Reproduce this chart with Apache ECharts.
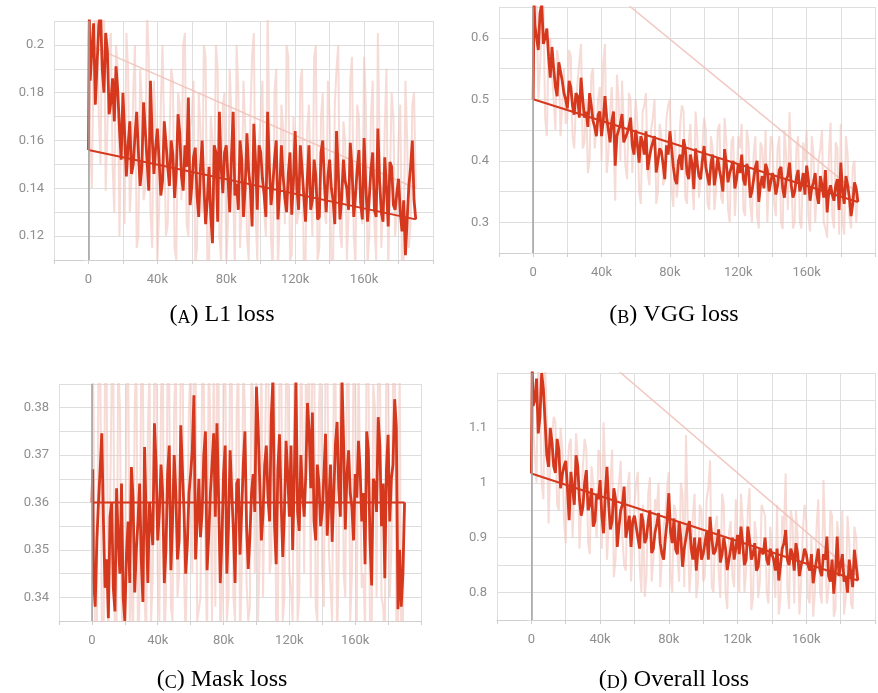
<!DOCTYPE html>
<html>
<head>
<meta charset="utf-8">
<script src="https://cdn.jsdelivr.net/npm/echarts@6/dist/echarts.min.js"></script>
<style>
html,body{margin:0;padding:0;background:#fff;}
#chart{width:878px;height:693px;}
</style>
</head>
<body>
<div id="chart"></div>
<script>
// training steps (thousands), main samples
const steps = [
  0,0.5,2,4,6,8,10,12,14,16,
  18,20,22,24,26,28,30,32,34,36,
  38,40,42,44,46,48,50,52,54,56,
  58,60,62,64,66,68,70,72,74,76,
  78,80,82,84,86,88,90,92,94,96,
  98,100,102,104,106,108,110,112,114,116,
  118,120,122,124,126,128,130,132,134,136,
  138,140,142,144,146,148,150,152,154,156,
  158,160,162,164,166,168,170,172,174,176,
  178,180,182,184,186,188,190
];
// in-between samples (thousands)
const stepsOdd = [
  1,3,5,7,9,11,13,15,17,19,
  21,23,25,27,29,31,33,35,37,39,
  41,43,45,47,49,51,53,55,57,59,
  61,63,65,67,69,71,73,75,77,79,
  81,83,85,87,89,91,93,95,97,99,
  101,103,105,107,109,111,113,115,117,119,
  121,123,125,127,129,131,133,135,137,139,
  141,143,145,147,149,151,153,155,157,159,
  161,163,165,167,169,171,173,175,177,179,
  181,183,185,187,189
];

// (A) L1 loss
const l1Smooth = [
  0.156,0.212,0.198,0.175,0.208,0.19,0.205,0.171,0.186,0.191,
  0.165,0.18,0.145,0.168,0.15,0.172,0.141,0.176,0.152,0.185,
  0.146,0.165,0.137,0.168,0.149,0.16,0.136,0.171,0.145,0.158,
  0.178,0.141,0.157,0.128,0.16,0.125,0.149,0.117,0.155,0.172,
  0.138,0.158,0.13,0.172,0.142,0.16,0.128,0.163,0.14,0.167,
  0.131,0.155,0.137,0.172,0.133,0.152,0.127,0.158,0.136,0.146,
  0.129,0.164,0.131,0.148,0.126,0.158,0.135,0.145,0.128,0.16,
  0.13,0.152,0.135,0.164,0.127,0.152,0.14,0.159,0.128,0.148,
  0.134,0.161,0.126,0.148,0.131,0.165,0.13,0.153,0.124,0.149,
  0.131,0.144,0.122,0.112,0.141,0.16,0.127
];
const l1SmoothOdd = [
  0.185,0.209,0.192,0.214,0.18,0.197,0.176,0.168,0.181,0.152,
  0.163,0.158,0.146,0.162,0.155,0.149,0.164,0.139,0.161,0.157,
  0.152,0.143,0.159,0.141,0.154,0.147,0.163,0.139,0.149,0.133,
  0.153,0.137,0.148,0.141,0.135,0.129,0.158,0.126,0.149,0.155,
  0.144,0.153,0.137,0.131,0.152,0.141,0.147,0.124,0.151,0.158,
  0.144,0.128,0.149,0.141,0.16,0.139,0.145,0.13,0.155,0.143,
  0.14,0.158,0.137,0.143,0.131,0.152,0.127,0.155,0.142,0.145,
  0.14,0.125,0.147,0.136,0.143,0.131,0.148,0.137,0.156,0.127,
  0.141,0.136,0.155,0.128,0.143,0.126,0.14,0.151,0.133,0.138,
  0.13,0.135,0.127,0.149,0.135
];
const l1Raw = [
  0.2,0.215,0.14,0.22,0.17,0.215,0.139,0.2,0.15,0.2,
  0.12,0.175,0.205,0.13,0.18,0.115,0.19,0.135,0.215,0.13,
  0.185,0.11,0.175,0.2,0.125,0.19,0.115,0.18,0.135,0.205,
  0.12,0.17,0.108,0.18,0.13,0.195,0.105,0.16,0.2,0.12,
  0.175,0.108,0.19,0.14,0.2,0.115,0.185,0.12,0.17,0.205,
  0.11,0.17,0.13,0.215,0.118,0.18,0.105,0.175,0.125,0.195,
  0.112,0.17,0.13,0.19,0.108,0.175,0.12,0.2,0.115,0.18,
  0.125,0.17,0.108,0.19,0.122,0.168,0.11,0.185,0.12,0.175,
  0.13,0.195,0.108,0.17,0.125,0.205,0.115,0.165,0.105,0.18,
  0.12,0.16,0.105,0.185,0.115,0.175,0.14
];
const l1RawOdd = [
  0.16,0.195,0.21,0.15,0.22,0.165,0.205,0.13,0.19,0.17,
  0.125,0.19,0.145,0.2,0.12,0.175,0.14,0.195,0.115,0.165,
  0.13,0.2,0.12,0.16,0.185,0.11,0.175,0.2,0.125,0.165,
  0.185,0.115,0.165,0.2,0.11,0.17,0.135,0.19,0.11,0.18,
  0.125,0.17,0.105,0.18,0.135,0.165,0.11,0.195,0.13,0.16,
  0.185,0.12,0.165,0.105,0.19,0.13,0.165,0.2,0.11,0.17,
  0.125,0.185,0.105,0.165,0.14,0.195,0.11,0.17,0.13,0.185,
  0.105,0.175,0.2,0.115,0.16,0.13,0.195,0.108,0.17,0.125,
  0.175,0.12,0.185,0.11,0.16,0.135,0.19,0.105,0.17,0.13,
  0.175,0.11,0.16,0.125,0.18
];

// (B) VGG loss
const vggSmooth = [
  0.5,0.66,0.6,0.64,0.59,0.615,0.535,0.55,0.505,0.545,
  0.51,0.485,0.52,0.475,0.505,0.535,0.47,0.455,0.49,0.455,
  0.475,0.44,0.505,0.45,0.465,0.392,0.45,0.476,0.43,0.455,
  0.425,0.45,0.397,0.43,0.448,0.405,0.43,0.381,0.42,0.395,
  0.425,0.448,0.39,0.362,0.41,0.435,0.38,0.41,0.354,0.395,
  0.37,0.424,0.375,0.395,0.36,0.405,0.37,0.419,0.365,0.39,
  0.355,0.395,0.41,0.36,0.385,0.35,0.39,0.333,0.375,0.395,
  0.35,0.38,0.345,0.385,0.355,0.37,0.397,0.34,0.372,0.35,
  0.38,0.392,0.335,0.365,0.345,0.375,0.34,0.316,0.36,0.335,
  0.37,0.397,0.33,0.36,0.31,0.365,0.333
];
const vggSmoothOdd = [
  0.62,0.58,0.655,0.6,0.57,0.585,0.52,0.56,0.53,0.5,
  0.53,0.49,0.51,0.47,0.5,0.48,0.51,0.465,0.44,0.48,
  0.465,0.47,0.43,0.48,0.44,0.46,0.43,0.445,0.47,0.41,
  0.425,0.44,0.41,0.385,0.42,0.44,0.4,0.415,0.37,0.41,
  0.42,0.37,0.4,0.385,0.42,0.37,0.395,0.42,0.375,0.4,
  0.39,0.36,0.41,0.38,0.385,0.35,0.395,0.38,0.4,0.37,
  0.38,0.37,0.395,0.34,0.37,0.4,0.36,0.355,0.385,0.365,
  0.37,0.36,0.39,0.34,0.375,0.36,0.35,0.385,0.36,0.345,
  0.37,0.355,0.38,0.33,0.36,0.385,0.35,0.345,0.36,0.32,
  0.35,0.375,0.34,0.33,0.355
];
const vggRaw = [
  0.78,0.62,0.68,0.55,0.66,0.44,0.6,0.5,0.58,0.44,
  0.55,0.47,0.57,0.42,0.53,0.59,0.43,0.38,0.54,0.42,
  0.5,0.4,0.59,0.41,0.52,0.335,0.5,0.53,0.39,0.51,
  0.38,0.5,0.35,0.48,0.51,0.36,0.47,0.33,0.46,0.36,
  0.47,0.5,0.325,0.34,0.46,0.48,0.33,0.46,0.32,0.44,
  0.34,0.47,0.33,0.44,0.32,0.45,0.34,0.47,0.32,0.43,
  0.31,0.44,0.46,0.31,0.43,0.3,0.44,0.29,0.42,0.45,
  0.3,0.43,0.31,0.44,0.289,0.41,0.479,0.29,0.42,0.3,
  0.43,0.45,0.285,0.41,0.3,0.42,0.3,0.275,0.462,0.29,
  0.42,0.46,0.28,0.41,0.29,0.4,0.347
];
const vggRawOdd = [
  0.7,0.5,0.62,0.47,0.59,0.54,0.45,0.56,0.49,0.46,
  0.58,0.44,0.49,0.56,0.42,0.5,0.4,0.55,0.45,0.52,
  0.56,0.38,0.48,0.43,0.54,0.4,0.46,0.37,0.5,0.44,
  0.46,0.33,0.49,0.38,0.45,0.5,0.35,0.44,0.37,0.49,
  0.35,0.45,0.37,0.49,0.34,0.43,0.36,0.48,0.34,0.42,
  0.45,0.32,0.42,0.35,0.46,0.33,0.43,0.3,0.44,0.36,
  0.42,0.32,0.45,0.33,0.41,0.31,0.43,0.36,0.3,0.44,
  0.33,0.42,0.3,0.45,0.32,0.39,0.3,0.44,0.29,0.4,
  0.31,0.44,0.3,0.4,0.45,0.29,0.41,0.31,0.43,0.28,
  0.3,0.44,0.31,0.39,0.3
];

// (C) Mask loss
const maskSmooth = [
  0.36,0.367,0.338,0.36,0.3746,0.342,0.3356,0.36,0.337,0.352,
  0.364,0.335,0.356,0.3675,0.341,0.356,0.348,0.3717,0.343,0.36,
  0.3767,0.352,0.368,0.343,0.366,0.3457,0.37,0.348,0.3763,0.358,
  0.351,0.366,0.3826,0.356,0.3527,0.37,0.3457,0.362,0.3746,0.3767,
  0.343,0.366,0.345,0.371,0.354,0.364,0.349,0.368,0.355,0.3527,
  0.366,0.3844,0.364,0.3577,0.372,0.356,0.386,0.347,0.3744,0.3485,
  0.373,0.357,0.35,0.386,0.354,0.362,0.366,0.3754,0.379,0.352,
  0.364,0.358,0.3745,0.36,0.3517,0.3723,0.363,0.386,0.3543,0.371,
  0.359,0.366,0.373,0.356,0.347,0.371,0.3425,0.364,0.378,0.355,
  0.344,0.3743,0.365,0.3818,0.3375,0.338,0.36
];
const maskSmoothOdd = [
  0.344,0.352,0.367,0.356,0.348,0.357,0.342,0.363,0.345,0.34,
  0.349,0.343,0.361,0.35,0.364,0.339,0.356,0.36,0.351,0.368,
  0.358,0.362,0.35,0.372,0.356,0.362,0.352,0.367,0.345,0.362,
  0.371,0.348,0.365,0.358,0.375,0.353,0.368,0.357,0.361,0.352,
  0.372,0.355,0.362,0.343,0.365,0.358,0.375,0.346,0.362,0.358,
  0.376,0.352,0.368,0.361,0.378,0.355,0.367,0.36,0.358,0.366,
  0.372,0.365,0.358,0.37,0.357,0.381,0.363,0.356,0.368,0.355,
  0.366,0.353,0.368,0.362,0.377,0.357,0.372,0.366,0.362,0.352,
  0.361,0.367,0.362,0.375,0.352,0.365,0.358,0.372,0.364,0.367,
  0.356,0.368,0.376,0.35,0.345
];
const maskRaw = [
  0.36,0.39,0.325,0.39,0.335,0.392,0.33,0.385,0.322,0.39,
  0.34,0.33,0.39,0.345,0.38,0.33,0.39,0.34,0.375,0.335,
  0.392,0.345,0.382,0.33,0.39,0.338,0.38,0.34,0.392,0.345,
  0.33,0.39,0.395,0.335,0.34,0.385,0.33,0.375,0.39,0.388,
  0.328,0.385,0.335,0.392,0.34,0.38,0.33,0.39,0.343,0.338,
  0.38,0.398,0.35,0.34,0.39,0.345,0.4,0.332,0.39,0.335,
  0.39,0.345,0.335,0.4,0.34,0.375,0.385,0.39,0.395,0.338,
  0.38,0.345,0.392,0.35,0.335,0.39,0.348,0.4,0.34,0.388,
  0.345,0.385,0.39,0.342,0.333,0.392,0.328,0.38,0.395,0.34,
  0.33,0.39,0.35,0.398,0.325,0.33,0.36
];
const maskRawOdd = [
  0.38,0.33,0.395,0.32,0.385,0.33,0.39,0.335,0.38,0.325,
  0.385,0.335,0.33,0.392,0.34,0.385,0.33,0.388,0.345,0.39,
  0.335,0.395,0.34,0.385,0.335,0.39,0.345,0.398,0.33,0.38,
  0.345,0.39,0.335,0.388,0.35,0.392,0.335,0.338,0.385,0.34,
  0.395,0.34,0.385,0.335,0.39,0.345,0.38,0.335,0.392,0.345,
  0.335,0.392,0.34,0.4,0.348,0.39,0.335,0.395,0.34,0.388,
  0.342,0.39,0.335,0.395,0.345,0.38,0.34,0.398,0.335,0.39,
  0.338,0.395,0.342,0.385,0.33,0.392,0.345,0.39,0.335,0.392,
  0.335,0.39,0.345,0.398,0.332,0.385,0.34,0.39,0.338,0.395,
  0.34,0.385,0.335,0.39,0.335
];

// (D) Overall loss
const totalSmooth = [
  1.017,1.21,1.15,1.09,1.2,1.11,1.029,1.075,1.018,1.06,
  1.015,1.04,0.932,0.99,1.05,0.97,0.956,1.023,0.96,0.92,
  0.98,1.005,0.908,1.029,0.915,0.99,0.883,0.95,0.993,0.92,
  0.883,0.94,0.9,0.944,0.89,0.93,0.872,0.91,0.945,0.87,
  0.9,0.981,0.89,0.878,0.93,0.847,0.9,0.93,0.86,0.84,
  0.9,0.87,0.91,0.938,0.87,0.89,0.855,0.9,0.841,0.88,
  0.86,0.905,0.92,0.85,0.92,0.86,0.89,0.847,0.88,0.9,
  0.85,0.87,0.84,0.822,0.88,0.914,0.85,0.87,0.89,0.83,
  0.86,0.87,0.84,0.817,0.86,0.84,0.87,0.902,0.82,0.798,
  0.902,0.85,0.82,0.80,0.86,0.878,0.822
];
const totalSmoothOdd = [
  1.14,1.19,1.12,1.17,1.05,1.1,1.03,1.08,0.99,1.03,
  0.99,1.02,0.96,1.03,0.94,1.0,0.95,0.99,0.93,0.97,
  0.94,0.98,0.96,0.93,0.97,0.92,0.96,0.9,0.94,0.93,
  0.92,0.88,0.93,0.9,0.95,0.88,0.925,0.89,0.86,0.93,
  0.91,0.935,0.87,0.9,0.88,0.92,0.88,0.9,0.88,0.86,
  0.89,0.86,0.9,0.875,0.915,0.87,0.88,0.86,0.9,0.88,
  0.87,0.89,0.86,0.895,0.87,0.84,0.88,0.87,0.86,0.88,
  0.86,0.88,0.85,0.89,0.86,0.88,0.84,0.87,0.85,0.88,
  0.85,0.87,0.84,0.88,0.83,0.86,0.83,0.86,0.84,0.83,
  0.87,0.83,0.86,0.81,0.85
];
const totalRaw = [
  1.34,1.2,1.05,1.22,1.0,1.21,0.926,1.08,1.11,0.95,
  1.06,0.89,1.07,0.9,1.09,0.88,1.03,1.06,0.87,1.0,
  0.9,1.05,1.11,0.86,1.0,0.828,0.97,1.04,0.85,0.99,
  0.82,0.96,1.02,0.8,0.792,0.98,0.82,0.97,1.0,0.81,
  0.94,1.02,0.8,0.95,0.82,0.98,1.087,0.8,0.94,0.79,
  0.96,0.82,0.97,1.041,0.8,0.94,0.79,0.96,0.77,0.93,
  0.81,0.97,0.98,0.8,0.95,0.768,0.93,0.79,0.96,0.94,
  0.78,0.92,0.79,0.76,0.94,1.017,0.77,0.93,0.95,0.76,
  0.91,0.93,0.78,0.756,0.92,0.8,1.005,0.78,0.95,0.756,
  0.93,0.8,0.76,0.94,0.78,0.92,0.83
];
const totalRawOdd = [
  1.1,1.0,1.15,0.97,1.12,1.03,1.12,0.96,1.1,0.93,
  1.02,1.08,0.9,1.05,0.95,1.08,0.89,1.03,0.95,1.06,
  0.88,1.02,0.92,1.06,0.86,1.0,0.9,0.84,1.02,0.89,
  1.0,0.85,0.96,0.83,1.01,0.86,0.95,0.81,0.92,0.99,
  0.83,0.96,0.87,1.0,0.81,0.93,0.85,0.98,0.82,0.95,
  0.83,0.99,0.81,0.92,0.84,0.98,0.8,0.91,0.83,0.97,
  0.8,0.93,0.84,0.99,0.79,0.9,0.82,0.96,0.8,0.92,
  0.85,0.96,0.79,0.91,0.81,0.95,0.78,0.9,0.82,0.96,
  0.79,0.9,0.8,0.97,0.78,0.9,0.81,0.94,0.77,0.9,
  0.95,0.79,0.89,0.77,0.9
];

// axis ranges [min, max, gridStep, labelStep]
const yRanges = [
  [0.11, 0.21, 0.01, 0.02],
  [0.25, 0.65, 0.05, 0.1],
  [0.335, 0.385, 0.005, 0.01],
  [0.75, 1.2, 0.05, 0.1]
];
const xTickLabels = ['0', '40k', '80k', '120k', '160k'];
const captions = [['A', ') L1 loss'], ['B', ') VGG loss'], ['C', ') Mask loss'], ['D', ') Overall loss']];

const panels = [
  {smooth: l1Smooth, smoothOdd: l1SmoothOdd, raw: l1Raw, rawOdd: l1RawOdd},
  {smooth: vggSmooth, smoothOdd: vggSmoothOdd, raw: vggRaw, rawOdd: vggRawOdd},
  {smooth: maskSmooth, smoothOdd: maskSmoothOdd, raw: maskRaw, rawOdd: maskRawOdd},
  {smooth: totalSmooth, smoothOdd: totalSmoothOdd, raw: totalRaw, rawOdd: totalRawOdd}
];

// layout (pixels)
const grids = [
  {left: 54, top: 21, width: 379, height: 239},
  {left: 499, top: 7, width: 385, height: 246},
  {left: 59, top: 384, width: 362, height: 237},
  {left: 497, top: 373, width: 390, height: 247}
];
const capPos = [[222, 313], [674, 313], [222, 678], [674, 678]];

const DARK = '#d5381d';
const PINK = '#f0c3bb';

function pts(main, odd) {
  const out = [];
  for (let i = 0; i < Math.min(main.length, steps.length); i++) out.push([steps[i] * 1000, main[i]]);
  for (let i = 0; i < Math.min(odd.length, stepsOdd.length); i++) out.push([stepsOdd[i] * 1000, odd[i]]);
  out.sort((a, b) => a[0] - b[0]);
  return out;
}
function wrap(arr) {
  const n = Math.min(arr.length, steps.length);
  return [[steps[0] * 1000, arr[0]], [steps[n - 1] * 1000, arr[n - 1]]];
}

const xAxis = [], yAxis = [], series = [], graphic = [];
grids.forEach((g, gi) => {
  const yr = yRanges[gi];
  xAxis.push({
    type: 'value', gridIndex: gi, min: -20000, max: 200000, interval: 20000,
    axisLine: {show: true, lineStyle: {color: '#cfcfcf', width: 1}},
    axisTick: {show: true, length: 4, lineStyle: {color: '#cfcfcf'}},
    splitLine: {show: true, lineStyle: {color: '#dedede', width: 1}},
    axisLabel: {
      margin: 13, color: '#8f8f8f', fontSize: 13, fontFamily: 'Roboto',
      formatter: v => {
        const k = Math.round(v / 1000);
        if (k < 0 || k >= 200 || k % 40 !== 0) return '';
        return xTickLabels[k / 40];
      }
    }
  });
  yAxis.push({
    type: 'value', gridIndex: gi, min: yr[0], max: yr[1], interval: yr[2],
    axisLine: {show: true, lineStyle: {color: '#cfcfcf', width: 1}},
    axisTick: {show: true, length: 4, lineStyle: {color: '#dedede'}},
    splitLine: {show: true, lineStyle: {color: '#dedede', width: 1}},
    axisLabel: {
      margin: 10, color: '#8f8f8f', fontSize: 13, fontFamily: 'Roboto',
      formatter: v => {
        const r = Math.round(v / yr[3] * 1000) / 1000;
        if (Math.abs(r - Math.round(r)) > 1e-6) return '';
        if (gi === 3 && v > 1.15) return '';
        return String(+v.toFixed(3));
      }
    }
  });
  const p = panels[gi];
  series.push({
    type: 'line', xAxisIndex: gi, yAxisIndex: gi, data: wrap(p.raw),
    symbol: 'none', silent: true, z: 1,
    lineStyle: {color: PINK, width: 1.5, opacity: 0.9},
    markLine: {
      silent: true, symbol: ['none', 'none'], label: {show: false},
      lineStyle: {color: '#a3a3a3', width: 1.5, type: 'solid'},
      data: [{xAxis: 0}]
    }
  });
  series.push({
    type: 'line', xAxisIndex: gi, yAxisIndex: gi, data: pts(p.raw, p.rawOdd),
    symbol: 'none', silent: true, z: 2,
    lineStyle: {color: PINK, width: 2, opacity: 0.6}
  });
  series.push({
    type: 'line', xAxisIndex: gi, yAxisIndex: gi, data: wrap(p.smooth),
    symbol: 'none', silent: true, z: 3,
    lineStyle: {color: DARK, width: 2}
  });
  series.push({
    type: 'line', xAxisIndex: gi, yAxisIndex: gi, data: pts(p.smooth, p.smoothOdd),
    symbol: 'none', silent: true, z: 4,
    lineStyle: {color: DARK, width: 2.8}
  });
  graphic.push({
    type: 'text', x: capPos[gi][0], y: capPos[gi][1],
    style: {
      text: '{n|(}{s|' + captions[gi][0] + '}{n|' + captions[gi][1] + '}',
      textAlign: 'center', textVerticalAlign: 'middle',
      rich: {
        n: {fontFamily: 'Liberation Serif', fontSize: 24, color: '#111', verticalAlign: 'bottom', lineHeight: 28},
        s: {fontFamily: 'Liberation Serif', fontSize: 18, color: '#111', verticalAlign: 'bottom', lineHeight: 26}
      }
    }
  });
});

const chart = echarts.init(document.getElementById('chart'), null, {renderer: 'canvas'});
chart.setOption({
  animation: false,
  backgroundColor: '#ffffff',
  grid: grids.map(g => Object.assign({containLabel: false}, g)),
  xAxis, yAxis, series, graphic
});
</script>
</body>
</html>
